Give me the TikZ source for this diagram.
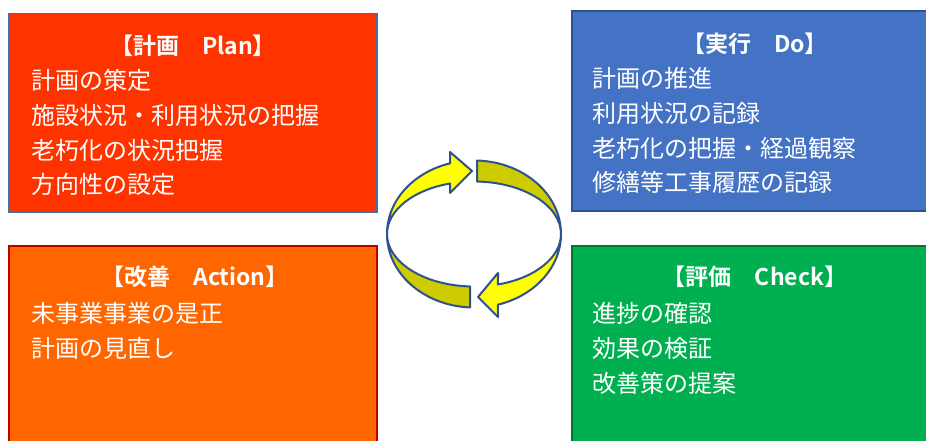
\documentclass[tikz,border=0pt]{standalone}
\usepackage{fontspec}
\setmainfont{Noto Sans CJK JP}[BoldFont={Noto Sans CJK JP Bold}]
\definecolor{planfill}{HTML}{FF3300}
\definecolor{planline}{HTML}{41719C}
\definecolor{dofill}{HTML}{4472C4}
\definecolor{doline}{HTML}{2F528F}
\definecolor{actfill}{HTML}{FF6600}
\definecolor{actline}{HTML}{C00000}
\definecolor{chkfill}{HTML}{00B050}
\definecolor{chkline}{HTML}{00782F}
\definecolor{arrowline}{HTML}{2F528F}
\definecolor{brightyellow}{HTML}{FFFF00}
\definecolor{oliveyellow}{HTML}{CCCC00}
\begin{document}
\begin{tikzpicture}[x=1pt,y=1pt,
  box/.style={draw, line width=1.6pt, rectangle, inner sep=0pt},
  title/.style={text=white, font=\fontsize{23}{23}\selectfont\bfseries, inner sep=0pt, anchor=center},
  item/.style={text=white, font=\fontsize{24}{24}\selectfont, inner sep=0pt, anchor=west},
  front/.style={fill=brightyellow, draw=arrowline, line width=2pt, line join=round},
  back/.style={fill=oliveyellow, draw=arrowline, line width=2pt, line join=round}]
\useasboundingbox (0,0) rectangle (926,441);
\clip (0,0) rectangle (926,441);
% boxes
\node[box, draw=planline, fill=planfill, minimum width=368pt, minimum height=199pt] (plan) at (193,328) {};
\node[box, draw=doline, fill=dofill, minimum width=366pt, minimum height=199.5pt] (do) at (755,330) {};
\node[box, draw=actline, fill=actfill, minimum width=368pt, minimum height=215pt] (act) at (193,87.5) {};
\node[box, draw=chkline, fill=chkfill, minimum width=366pt, minimum height=215pt] (chk) at (755,87.5) {};
% Plan text
\node[title] (pt) at (193,395) {【計画　Plan】};
\node[item] (p1) at (31,361) {計画の策定};
\node[item] (p2) at (31,326) {施設状況・利用状況の把握};
\node[item] (p3) at (31,291) {老朽化の状況把握};
\node[item] (p4) at (31,257) {方向性の設定};
% Do text
\node[title] (dt) at (755,397) {【実行　Do】};
\node[item] (d1) at (592,363) {計画の推進};
\node[item] (d2) at (592,328) {利用状況の記録};
\node[item] (d3) at (592,293) {老朽化の把握・経過観察};
\node[item] (d4) at (592,259) {修繕等工事履歴の記録};
% Action text
\node[title] (at) at (195,164) {【改善　Action】};
\node[item] (a1) at (31,128) {未事業事業の是正};
\node[item] (a2) at (31,93) {計画の見直し};
% Check text
\node[title] (ct) at (755,164) {【評価　Check】};
\node[item] (c1) at (592,128) {進捗の確認};
\node[item] (c2) at (592,93) {効果の検証};
\node[item] (c3) at (592,58) {改善策の提案};
% cycle arrows: ellipse centre (474,207)
\coordinate (cc) at (474,207);
% back (olive) bands
\draw[back] (477.04,280.46) arc[start angle=88, end angle=0, x radius=87pt, y radius=73.5pt]
  arc[start angle=0, end angle=88, x radius=87pt, y radius=52.5pt] -- cycle;
\draw[back] (470.05,133.57) arc[start angle=267.4, end angle=180, x radius=87pt, y radius=73.5pt]
  arc[start angle=180, end angle=267.4, x radius=87pt, y radius=52.5pt] -- cycle;
% front (bright) arrows
\draw[front] (387,207) arc[start angle=180, end angle=106, x radius=87pt, y radius=73.5pt]
  -- (450,289) -- (472,270) -- (450,248) -- (450.02,257.47)
  arc[start angle=106, end angle=180, x radius=87pt, y radius=52.5pt] -- cycle;
\draw[front] (561,207) arc[start angle=0, end angle=-74, x radius=87pt, y radius=73.5pt]
  -- (498,124) -- (478,144) -- (498,168) -- (497.98,156.53)
  arc[start angle=-74, end angle=0, x radius=87pt, y radius=52.5pt] -- cycle;
\end{tikzpicture}
\end{document}
